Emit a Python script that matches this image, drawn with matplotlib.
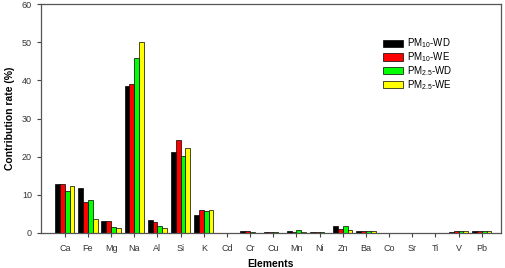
import matplotlib
matplotlib.use('Agg')
import matplotlib.pyplot as plt
import numpy as np

plt.rcParams['font.family'] = ['Liberation Sans', 'DejaVu Sans']
plt.rcParams['mathtext.fontset'] = 'custom'
plt.rcParams['mathtext.rm'] = 'Liberation Sans'
plt.rcParams['mathtext.default'] = 'regular'

elements = ['Ca', 'Fe', 'Mg', 'Na', 'Al', 'Si', 'K', 'Cd', 'Cr', 'Cu',
            'Mn', 'Ni', 'Zn', 'Ba', 'Co', 'Sr', 'Ti', 'V', 'Pb']
pm10_wd = [12.9, 11.8, 3.2, 38.5, 3.4, 21.2, 4.7, 0.0, 0.5, 0.2,
           0.5, 0.2, 1.8, 0.4, 0.0, 0.0, 0.1, 0.3, 0.6]
pm10_we = [12.9, 8.2, 3.2, 39.0, 2.8, 24.5, 6.0, 0.0, 0.6, 0.2,
           0.3, 0.2, 1.0, 0.6, 0.0, 0.0, 0.1, 0.4, 0.5]
pm25_wd = [11.0, 8.7, 1.7, 46.0, 1.9, 20.3, 5.7, 0.0, 0.2, 0.2,
           0.7, 0.2, 1.9, 0.5, 0.0, 0.0, 0.0, 0.5, 0.6]
pm25_we = [12.4, 3.6, 1.4, 50.2, 1.4, 22.2, 5.9, 0.0, 0.1, 0.1,
           0.3, 0.1, 0.9, 0.5, 0.0, 0.0, 0.0, 0.5, 0.4]

series = [pm10_wd, pm10_we, pm25_wd, pm25_we]
labels = [r'PM$_{10}$-WD', r'PM$_{10}$-WE', r'PM$_{2.5}$-WD', r'PM$_{2.5}$-WE']
colors = ['#000000', '#ff0000', '#00ff00', '#ffff00']

fig = plt.figure(figsize=(5.05, 2.68), dpi=100)
ax = fig.add_axes([0.081, 0.1306, 0.911, 0.854])

x = np.arange(len(elements))
w = 0.21
for i, (vals, lab, col) in enumerate(zip(series, labels, colors)):
    ax.bar(x + (i - 1.5) * w, vals, width=w, color=col, edgecolor='black',
           linewidth=0.5, label=lab)

ax.set_xlim(-1.03, 18.83)
ax.set_ylim(0, 60)
ax.set_yticks(range(0, 61, 10))
ax.set_xticks(x)
ax.set_xticklabels(elements)
ax.tick_params(axis='both', labelsize=6.5, direction='out', length=3, width=0.8,
               colors='#444444', labelcolor='#333333')
ax.tick_params(axis='x', pad=5)

for s in ax.spines.values():
    s.set_color('#555555')
    s.set_linewidth(0.9)

ax.set_ylabel('Contribution rate (%)', fontsize=7.5, fontweight='bold', labelpad=5)
ax.set_xlabel('Elements', fontsize=7.5, fontweight='bold', labelpad=4)

ax.legend(loc='upper left', bbox_to_anchor=(0.735, 0.875), frameon=False,
          fontsize=7, handlelength=2.1, handleheight=0.75, handletextpad=0.4,
          labelspacing=0.0, borderaxespad=0)

fig.savefig('out.png', dpi=100)
